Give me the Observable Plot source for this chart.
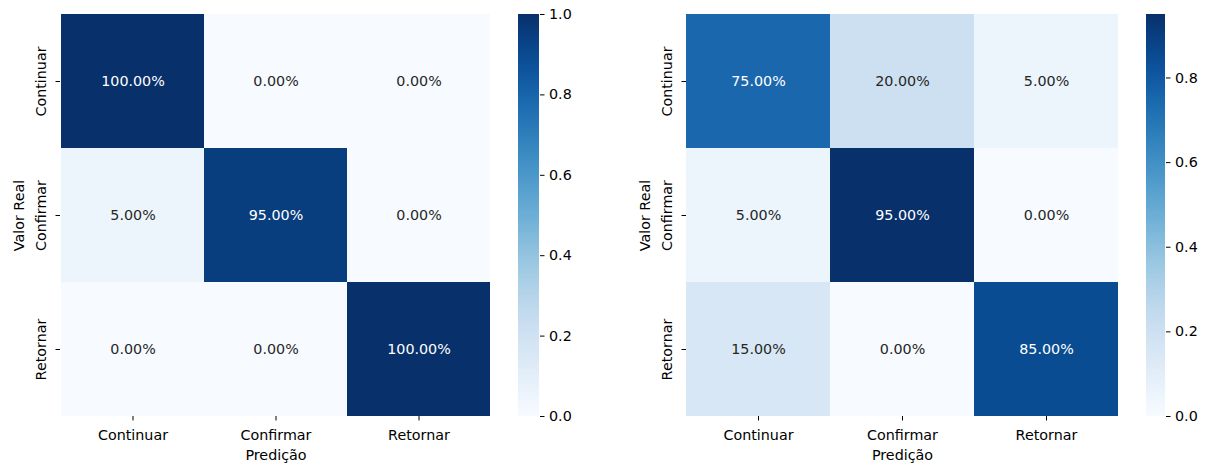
<!DOCTYPE html>
<html>
<head>
<meta charset="utf-8">
<script src="https://cdn.jsdelivr.net/npm/d3@7"></script>
<script src="https://cdn.jsdelivr.net/npm/@observablehq/plot@0.6"></script>
<style>
  html, body { margin: 0; padding: 0; background: #fff; }
  #chart { position: relative; width: 1209px; height: 465px; overflow: hidden; }
  #chart svg { position: absolute; top: 0; }
</style>
</head>
<body>
<div id="chart"></div>
<script>
const categories = ["Continuar", "Confirmar", "Retornar"];
const xLabel = "Predição";
const yLabel = "Valor Real";
// rows = true value, columns = prediction
const matrixLeft = [
  [1.00, 0.00, 0.00],
  [0.05, 0.95, 0.00],
  [0.00, 0.00, 1.00]
];
const matrixRight = [
  [0.75, 0.20, 0.05],
  [0.05, 0.95, 0.00],
  [0.15, 0.00, 0.85]
];
const colorbarTicks = [0, 0.2, 0.4, 0.6, 0.8, 1.0];

const FONT = "DejaVu Sans, sans-serif";
const FS = 14.3;
const H = 465, MT = 14, MB = 49;

function toCells(m) {
  const out = [];
  m.forEach((row, i) => row.forEach((v, j) => out.push({real: categories[i], pred: categories[j], v})));
  return out;
}

function heatmap(matrix, vmax, left, width, marginLeft, marginRight) {
  const cells = toCells(matrix);
  const fmt = d => (d.v * 100).toFixed(2) + "%";
  const txt = {textAnchor: "middle", lineAnchor: "middle", fill: "#000", fontSize: FS};
  const svg = Plot.plot({
    width, height: H,
    marginLeft, marginRight, marginTop: MT, marginBottom: MB,
    style: {fontFamily: FONT, fontSize: FS + "px", color: "#000", background: "transparent"},
    x: {type: "band", domain: categories, padding: 0, axis: null},
    y: {type: "band", domain: categories, padding: 0, axis: null},
    color: {type: "linear", scheme: "blues", domain: [0, vmax]},
    marks: [
      Plot.cell(cells, {x: "pred", y: "real", fill: "v", inset: 0, shapeRendering: "crispEdges"}),
      Plot.text(cells.filter(d => d.v / vmax > 0.5), {x: "pred", y: "real", text: fmt, fill: "white", fontSize: FS}),
      Plot.text(cells.filter(d => d.v / vmax <= 0.5), {x: "pred", y: "real", text: fmt, fill: "#262626", fontSize: FS}),
      Plot.axisX({anchor: "bottom", tickSize: 4.5, tickFormat: () => "", label: null, stroke: "#000"}),
      Plot.axisY({anchor: "left", tickSize: 4.5, tickFormat: () => "", label: null, stroke: "#000"}),
      Plot.text(categories, {x: d => d, frameAnchor: "bottom", dy: 19, ...txt}),
      Plot.text(categories, {y: d => d, frameAnchor: "left", dx: -19, rotate: -90, ...txt}),
      Plot.text([xLabel], {frameAnchor: "bottom", dy: 39, ...txt}),
      Plot.text([yLabel], {frameAnchor: "left", dx: -41, rotate: -90, ...txt})
    ]
  });
  svg.style.left = left + "px";
  return svg;
}

function colorbar(vmax, left, width, marginLeft, marginRight) {
  const n = 256;
  const step = vmax / n;
  const stops = d3.range(n).map(i => i * step);
  const svg = Plot.plot({
    width, height: H,
    marginLeft, marginRight, marginTop: MT, marginBottom: MB,
    style: {fontFamily: FONT, fontSize: FS + "px", color: "#000", background: "transparent"},
    x: {domain: [0, 1], axis: null},
    y: {domain: [0, vmax], axis: null},
    color: {type: "linear", scheme: "blues", domain: [0, vmax]},
    marks: [
      Plot.rect(stops, {x1: 0, x2: 1, y1: d => d, y2: d => Math.min(vmax, d + step * 1.6), fill: d => d + step / 2, shapeRendering: "crispEdges"}),
      Plot.axisY({
        anchor: "right",
        ticks: colorbarTicks.filter(t => t <= vmax + 1e-9),
        tickFormat: d3.format(".1f"),
        tickSize: 4.5, tickPadding: 5, label: null,
        fill: "#000", stroke: "#000", fontSize: FS
      })
    ]
  });
  svg.style.left = left + "px";
  return svg;
}

const chart = document.getElementById("chart");
chart.appendChild(heatmap(matrixLeft, 1.0, 0, 500, 60, 9));
chart.appendChild(colorbar(1.0, 500, 90, 18, 51));
chart.appendChild(heatmap(matrixRight, 0.95, 625, 500, 61, 7));
chart.appendChild(colorbar(0.95, 1126, 83, 20, 44));
</script>
</body>
</html>
